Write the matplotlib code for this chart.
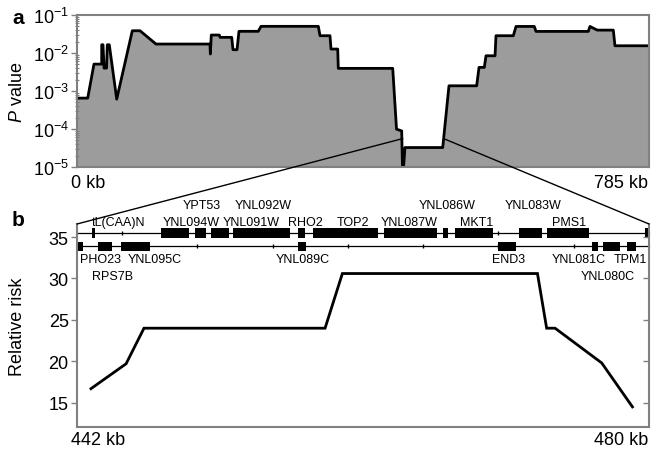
import numpy as np
import matplotlib
matplotlib.use('Agg')
import matplotlib.pyplot as plt
from matplotlib.patches import Rectangle, ConnectionPatch

plt.rcParams['font.family'] = ['Liberation Sans', 'DejaVu Sans']
plt.rcParams['mathtext.fontset'] = 'custom'
plt.rcParams['mathtext.rm'] = 'Liberation Sans'
plt.rcParams['mathtext.it'] = 'Liberation Sans:italic'

# --- panel a: P value along the chromosome (kb) ---
pos_kb = [0, 14.7, 23.3, 33.9, 33.9, 35.7, 37.1, 40.5, 41.6, 44.3, 54.5, 75.9, 86.5,
          108.4, 182.5, 183.0, 184.3, 195.3, 196.3, 212.3, 214.1, 219.6, 222.3,
          248.8, 252.5, 331.2, 333.5, 347.2, 348.6, 357.8, 358.6, 433.3, 438.5,
          445.6, 447.0, 450.1, 501.9, 510.5, 548.5, 551.7, 559.0, 561.3, 573.7,
          575.0, 598.8, 602.5, 627.6, 629.9, 701.7, 704.0, 714.0, 736.0, 738.3, 785]
p_val = [6.5e-4, 6.5e-4, 5.1e-3, 5.1e-3, 1.65e-2, 1.65e-2, 4.0e-3, 4.0e-3, 1.65e-2,
         1.65e-2, 6.1e-4, 3.85e-2, 3.85e-2, 1.72e-2, 1.72e-2, 9.4e-3, 2.97e-2,
         2.97e-2, 2.58e-2, 2.58e-2, 1.22e-2, 1.22e-2, 3.72e-2, 3.72e-2, 5.03e-2,
         5.03e-2, 2.85e-2, 2.85e-2, 1.27e-2, 1.27e-2, 3.94e-3, 3.94e-3, 9.9e-5,
         8.9e-5, 5e-6, 3.25e-5, 3.25e-5, 1.37e-3, 1.37e-3, 4.18e-3, 4.18e-3,
         8.45e-3, 8.45e-3, 2.85e-2, 2.85e-2, 5.0e-2, 5.0e-2, 3.7e-2, 3.7e-2,
         5.0e-2, 4.0e-2, 4.0e-2, 1.55e-2, 1.55e-2]

# --- panel b: relative risk in the 442-480 kb window ---
rr_kb = [442.93, 445.26, 446.45, 458.48, 459.63, 472.59, 473.2, 473.76, 476.86, 478.9]
rr_val = [16.7, 19.7, 24.0, 24.0, 30.6, 30.6, 24.0, 24.0, 19.8, 14.5]

# genes: (start kb, end kb)
genes_watson = [(443.02, 443.20), (447.58, 449.44), (449.87, 450.55), (450.88, 452.10),
                (452.38, 456.15), (456.66, 457.15), (457.66, 462.02), (462.39, 465.93),
                (466.33, 466.67), (467.11, 469.66), (471.36, 472.87), (473.24, 476.01),
                (479.73, 480.0)]
genes_crick = [(442.0, 442.38), (443.42, 444.35), (444.90, 446.85), (456.66, 457.19),
               (469.99, 471.16), (476.19, 476.63), (476.92, 478.07), (478.56, 479.14)]

# gene labels: (name, x kb, row)
gene_labels = [('YPT53', 450.28, 0), ('YNL092W', 454.36, 0), ('YNL086W', 466.61, 0),
               ('YNL083W', 472.29, 0),
               ('tL(CAA)N', 444.75, 1), ('YNL094W', 449.6, 1), ('YNL091W', 453.55, 1),
               ('RHO2', 457.15, 1), ('TOP2', 460.34, 1), ('YNL087W', 464.06, 1),
               ('MKT1', 468.54, 1), ('PMS1', 474.68, 1),
               ('PHO23', 443.53, 2), ('YNL095C', 447.18, 2), ('YNL089C', 456.98, 2),
               ('END3', 470.68, 2), ('YNL081C', 475.35, 2), ('TPM1', 478.77, 2),
               ('RPS7B', 444.36, 3), ('YNL080C', 477.27, 3)]

spine_grey = '#808080'
fs = 13

fig = plt.figure(figsize=(6.55, 4.52), dpi=100)

# ---------------- panel a ----------------
ax1 = fig.add_axes([77/655, 1 - 168/452, 572/655, 152/452])
ax1.set_yscale('log')
ax1.fill_between(pos_kb, p_val, 1e-6, color='#9c9c9c', lw=0)
ax1.plot(pos_kb, p_val, color='black', lw=2)
ax1.set_xlim(0, 785)
ax1.set_ylim(1e-5, 1e-1)
ax1.set_xticks([])
ax1.set_yticks([1e-5, 1e-4, 1e-3, 1e-2, 1e-1])
ax1.set_yticklabels(['10$^{-5}$', '10$^{-4}$', '10$^{-3}$', '10$^{-2}$', '10$^{-1}$'],
                    fontsize=fs)
ax1.tick_params(axis='y', which='major', direction='out', length=4, width=1,
                color=spine_grey, pad=2)
ax1.tick_params(axis='y', which='minor', direction='inout', length=3, width=0.8,
                color=spine_grey)
for s in ax1.spines.values():
    s.set_color(spine_grey)
    s.set_linewidth(1.5)
ax1.set_ylabel('$P$ value', fontsize=fs)
ax1.yaxis.set_label_coords(-0.089, 0.5)

fig.text(71/655, 1 - 184/452, '0 kb', ha='left', va='center', fontsize=fs)
fig.text(648/655, 1 - 184/452, '785 kb', ha='right', va='center', fontsize=fs)
fig.text(12/655, 1 - 18/452, 'a', ha='left', va='center', fontsize=15, fontweight='bold')

# ---------------- panel b ----------------
ax2 = fig.add_axes([77/655, 1 - 428/452, 572/655, 203/452])
ax2.set_xlim(442, 480)
ax2.set_ylim(12.07, 36.58)
ax2.plot(rr_kb, rr_val, color='black', lw=2, solid_joinstyle='miter')

y_top, y_bot = 35.46, 33.89
ax2.plot([442, 480], [y_top, y_top], color='black', lw=0.9, clip_on=False)
ax2.plot([442, 480], [y_bot, y_bot], color='black', lw=0.9, clip_on=False)
marks = np.arange(445, 480, 5)
ax2.plot(marks, [y_top] * len(marks), '|', color='black', ms=3, mew=1)
ax2.plot(marks, [y_bot] * len(marks), '|', color='black', ms=3, mew=1)
for x0, x1 in genes_watson:
    ax2.add_patch(Rectangle((x0, y_top - 0.6), x1 - x0, 1.2, color='black', lw=0))
for x0, x1 in genes_crick:
    ax2.add_patch(Rectangle((x0, y_bot - 0.55), x1 - x0, 1.1, color='black', lw=0))

row_y = [38.88, 36.79, 32.36, 30.30]
for name, x, row in gene_labels:
    ax2.text(x, row_y[row], name, ha='center', va='center', fontsize=9, clip_on=False)

ax2.set_xticks([])
ax2.set_yticks([15, 20, 25, 30, 35])
ax2.set_yticklabels(['15', '20', '25', '30', '35'], fontsize=fs)
ax2.tick_params(axis='y', direction='out', length=4, width=1, color=spine_grey,
                pad=2, right=True)
ax2.spines['top'].set_visible(False)
for side in ['left', 'right', 'bottom']:
    ax2.spines[side].set_color(spine_grey)
    ax2.spines[side].set_linewidth(1.5)
for t in ax2.yaxis.get_ticklines()[1::2]:
    t.set_marker(0)  # right ticks point inward
    t.set_markersize(4)
ax2.set_ylabel('Relative risk', fontsize=fs)
ax2.yaxis.set_label_coords(-0.089, 0.5)

fig.text(71/655, 1 - 441/452, '442 kb', ha='left', va='center', fontsize=fs)
fig.text(648/655, 1 - 441/452, '480 kb', ha='right', va='center', fontsize=fs)
fig.text(12/655, 1 - 221/452, 'b', ha='left', va='center', fontsize=15, fontweight='bold')

# zoom connectors from panel a to panel b
for xa, ya, xb in [(447.0, 5.6e-5, 0), (505.0, 5.4e-5, 1)]:
    con = ConnectionPatch(xyA=(xa, ya), coordsA=ax1.transData,
                          xyB=(xb, 1), coordsB=ax2.transAxes,
                          color='black', lw=1)
    fig.add_artist(con)

fig.savefig('out.png', dpi=100)
